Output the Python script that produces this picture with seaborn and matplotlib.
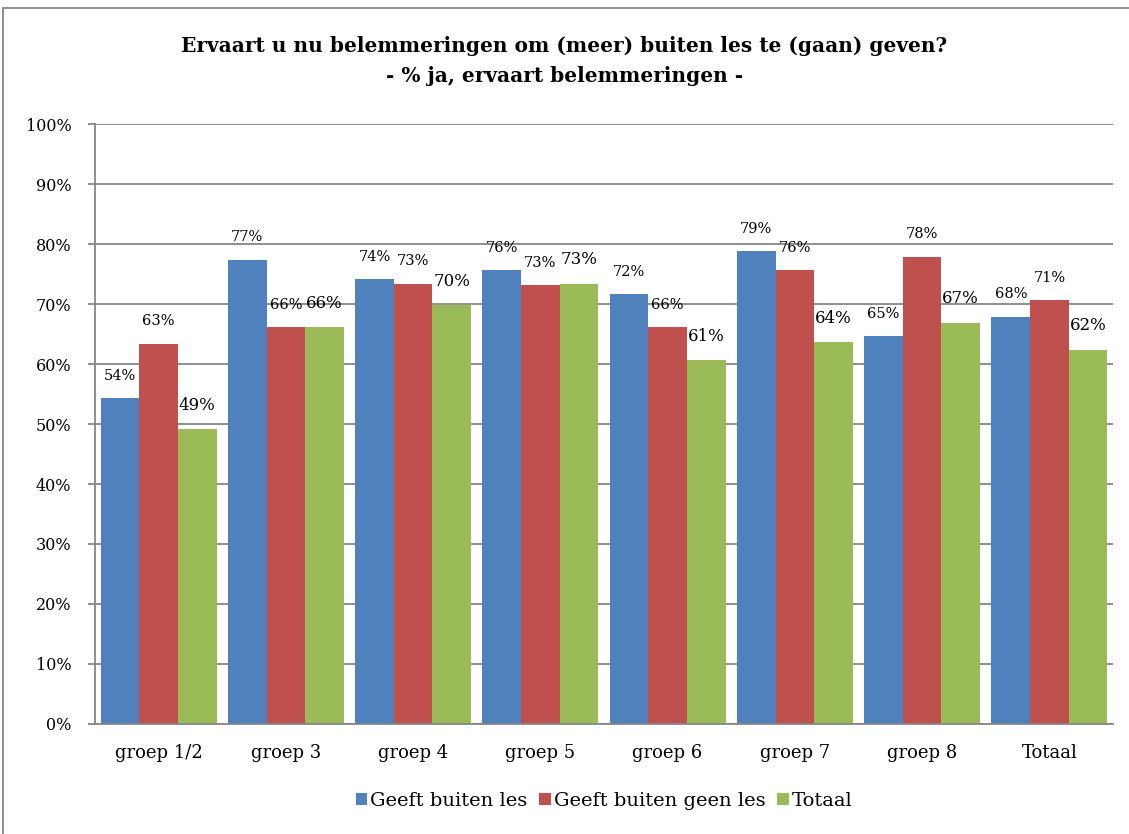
import pandas as pd
import numpy as np
import matplotlib
matplotlib.use("Agg")
import matplotlib.pyplot as plt
import matplotlib.ticker as mticker
from matplotlib.patches import Rectangle
import seaborn as sns

# Data (percent)
groups = ["groep 1/2", "groep 3", "groep 4", "groep 5", "groep 6", "groep 7", "groep 8", "Totaal"]
series = ["Geeft buiten les", "Geeft buiten geen les", "Totaal"]
geeft_les = [54.3, 77.4, 74.1, 75.6, 71.6, 78.8, 64.6, 67.9]
geen_les = [63.4, 66.2, 73.4, 73.2, 66.2, 75.7, 77.9, 70.7]
totaal = [49.2, 66.2, 69.8, 73.4, 60.6, 63.7, 66.9, 62.4]
colors = ["#4F81BD", "#C0504D", "#9BBB59"]

df = pd.DataFrame({
    "groep": groups * 3,
    "serie": [series[0]] * 8 + [series[1]] * 8 + [series[2]] * 8,
    "pct": geeft_les + geen_les + totaal,
})

sns.set_style("white")
plt.rcParams["font.family"] = ["DejaVu Serif"]
plt.rcParams["text.color"] = "black"
plt.rcParams["xtick.color"] = "black"
plt.rcParams["ytick.color"] = "black"

fig = plt.figure(figsize=(11.29, 8.34), dpi=100)
ax = fig.add_axes([95 / 1129, 1 - 724 / 834, (1113 - 95) / 1129, 600 / 834])

sns.barplot(data=df, x="groep", y="pct", hue="serie", palette=colors,
            width=0.91, saturation=1, ax=ax, legend=True, linewidth=0)

# value labels (green labels are a bit bigger in the original)
label_sizes = [10.5, 10.5, 12]
for cont, fs in zip(ax.containers, label_sizes):
    ax.bar_label(cont, fmt="%.0f%%", padding=11, fontsize=fs, color="black")

ax.set_ylim(0, 100)
ax.set_xlim(-0.5, 7.5)
ax.yaxis.set_major_locator(mticker.MultipleLocator(10))
ax.yaxis.set_major_formatter(mticker.FuncFormatter(lambda v, p: f"{v:.0f}%"))
ax.grid(axis="y", color="#868686", linewidth=1.3)
ax.set_axisbelow(True)
ax.set_xlabel("")
ax.set_ylabel("")
for s in ["top", "right"]:
    ax.spines[s].set_visible(False)
for s in ["left", "bottom"]:
    ax.spines[s].set_color("#868686")
    ax.spines[s].set_linewidth(1.3)
ax.tick_params(axis="y", left=True, length=5, width=1.3, color="#868686",
               labelcolor="black", pad=12, labelsize=11.5)
ax.tick_params(axis="x", bottom=False, labelcolor="black", pad=11, labelsize=13)

# legend below
ax.legend(loc="center", bbox_to_anchor=(0.5, -77 / 600), ncol=3, frameon=False,
          fontsize=14, handlelength=0.6, handleheight=0.6, handletextpad=0.15,
          columnspacing=0.6, labelcolor="black")

fig.suptitle("Ervaart u nu belemmeringen om (meer) buiten les te (gaan) geven?\n- % ja, ervaart belemmeringen -",
             y=1 - 36 / 834, fontsize=14.5, fontweight="bold", linespacing=1.6,
             color="black")

# outer chart border
fig.patches.append(Rectangle((3 / 1129, -0.01), 1.02, 1 - 8 / 834 + 0.01,
                             transform=fig.transFigure, fill=False,
                             edgecolor="#868686", linewidth=1.3))

fig.savefig("out.png", dpi=100)
